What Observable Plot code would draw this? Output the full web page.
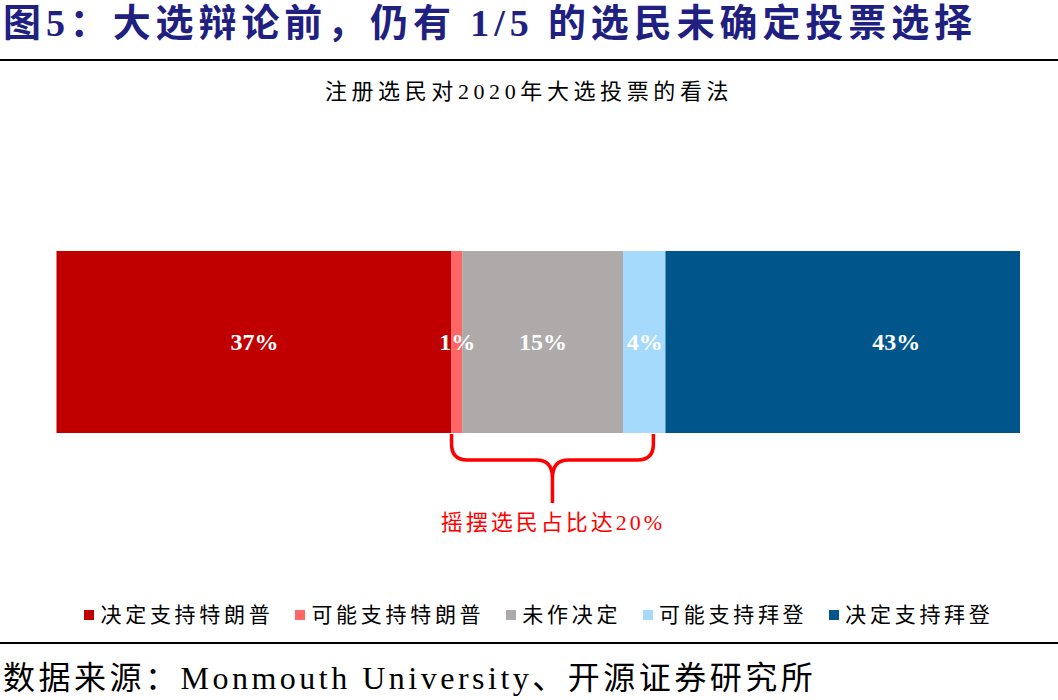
<!DOCTYPE html>
<html><head><meta charset="utf-8">
<script src="https://cdn.jsdelivr.net/npm/d3@7"></script>
<script src="https://cdn.jsdelivr.net/npm/@observablehq/plot@0.6"></script>
<style>
body{margin:0;background:#fff;width:1058px;height:700px;position:relative;overflow:hidden;font-family:"Liberation Serif","Noto Sans CJK SC",serif;color:#000;}
#title{position:absolute;left:3px;top:0;font-size:38px;font-weight:bold;color:#202080;letter-spacing:4.9px;line-height:46px;white-space:nowrap;}
.rule{position:absolute;left:0;width:1058px;height:2px;background:#000;}
#subtitle{position:absolute;left:0;width:1058px;top:78px;text-align:center;font-size:22px;letter-spacing:4.6px;line-height:28px;white-space:nowrap;}
#chart{position:absolute;left:0;top:110px;}
#legend{position:absolute;left:10px;width:1058px;top:601px;display:flex;justify-content:center;gap:22px;font-size:21px;letter-spacing:3.7px;line-height:28px;white-space:nowrap;}
#legend .item{display:flex;align-items:center;}
#legend .sw{width:10px;height:10px;margin-right:6px;}
#source{position:absolute;left:3px;top:658px;font-size:32px;letter-spacing:3.5px;line-height:40px;white-space:nowrap;}
</style>
</head><body>
<div id="title"></div>
<div class="rule" style="top:59px"></div>
<div id="subtitle"></div>
<div id="chart"></div>
<div id="legend"></div>
<div class="rule" style="top:642px"></div>
<div id="source"></div>
<script>
const titleText = "图5：大选辩论前，仍有 1/5 的选民未确定投票选择";
const subtitleText = "注册选民对2020年大选投票的看法";
const categories = ["决定支持特朗普", "可能支持特朗普", "未作决定", "可能支持拜登", "决定支持拜登"];
const values = [41.0, 1.1, 16.7, 4.4, 36.8];
const labels = ["37%", "1%", "15%", "4%", "43%"];
const colors = ["#c00000", "#ff6666", "#aeaaaa", "#a6dafc", "#00558a"];
const annotationText = "摇摆选民占比达20%";
const sourceText = "数据来源：Monmouth University、开源证券研究所";

document.getElementById("title").textContent = titleText;
document.getElementById("subtitle").textContent = subtitleText;
document.getElementById("source").textContent = sourceText;

let cum = 0;
const rows = categories.map((c, i) => {
  const r = {cat: c, value: values[i], label: labels[i], x1: cum, x2: cum + values[i], group: "all"};
  cum += values[i];
  return r;
});
const braceStart = rows[1].x1;
const braceEnd = rows[3].x2 - 1.25;
const braceMid = (braceStart + braceEnd) / 2;

const labelFont = {fill: "white", fontSize: 24, fontWeight: "bold", fontFamily: "Liberation Serif, serif"};

const braceMark = (index, scales, values, dimensions) => {
  const x = scales.x;
  const yb = dimensions.height - dimensions.marginBottom;
  const xl = x(braceStart), xr = x(braceEnd), xc = x(braceMid);
  const r = 16, h = yb + 27;
  const p = d3.path();
  p.moveTo(xl, yb + 1);
  p.lineTo(xl, h - r);
  p.quadraticCurveTo(xl, h, xl + r, h);
  p.lineTo(xc - r, h);
  p.quadraticCurveTo(xc, h, xc, h + 18);
  p.lineTo(xc, yb + 70);
  p.moveTo(xc, h + 18);
  p.quadraticCurveTo(xc, h, xc + r, h);
  p.lineTo(xr - r, h);
  p.quadraticCurveTo(xr, h, xr, h - r);
  p.lineTo(xr, yb + 1);
  return d3.create("svg:path")
    .attr("d", p.toString())
    .attr("fill", "none")
    .attr("stroke", "#ff0000")
    .attr("stroke-width", 3.5)
    .attr("stroke-linejoin", "round")
    .node();
};

const chart = Plot.plot({
  width: 1058,
  height: 480,
  marginLeft: 56.5,
  marginRight: 38,
  marginTop: 141,
  marginBottom: 157,
  x: {domain: [0, d3.sum(values)], axis: null},
  y: {domain: ["all"], padding: 0, axis: null},
  color: {domain: categories, range: colors},
  style: {background: "white", overflow: "visible"},
  marks: [
    Plot.barX(rows, {x1: "x1", x2: "x2", y: "group", fill: "cat"}),
    Plot.text(rows.slice(0, 4), {x: d => (d.x1 + d.x2) / 2, y: "group", text: "label", ...labelFont}),
    Plot.text(rows.slice(4), {x: d => (d.x1 + d.x2) / 2, y: "group", text: "label", dx: 53, ...labelFont}),
    braceMark,
    Plot.text([annotationText], {x: () => braceMid, y: () => "all", text: d => d, dy: 180, fill: "#ff0000", fontSize: 22, fontFamily: "Liberation Serif, Noto Sans CJK SC, serif"})
  ]
});
chart.querySelectorAll("text").forEach(t => {
  if (t.textContent === annotationText) t.style.letterSpacing = "3px";
});
document.getElementById("chart").appendChild(chart);

const legend = document.getElementById("legend");
categories.forEach((c, i) => {
  const item = document.createElement("div");
  item.className = "item";
  const sw = document.createElement("span");
  sw.className = "sw";
  sw.style.background = colors[i];
  const t = document.createElement("span");
  t.textContent = c;
  item.appendChild(sw);
  item.appendChild(t);
  legend.appendChild(item);
});
</script>
</body></html>
